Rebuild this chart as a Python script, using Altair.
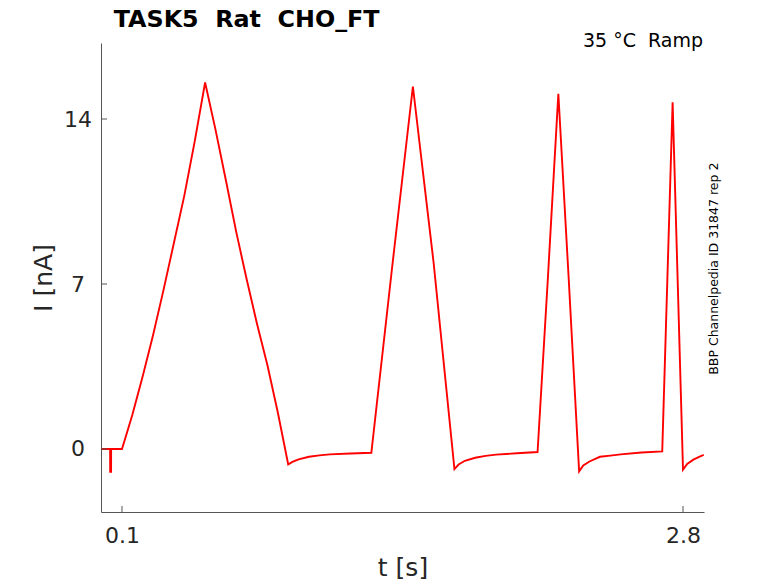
import altair as alt
import pandas as pd

# ---- data ----
t_vals = [0.0, 0.043, 0.0432, 0.0475, 0.0477, 0.1,
          0.15, 0.2, 0.25, 0.3, 0.35, 0.4, 0.45, 0.5,
          0.55, 0.6, 0.65, 0.7, 0.75, 0.8, 0.85, 0.9,
          0.92, 0.95, 1.0, 1.05, 1.1, 1.2, 1.3,
          1.4, 1.5, 1.6, 1.7,
          1.72, 1.75, 1.8, 1.85, 1.9, 2.0, 2.1,
          2.15, 2.2, 2.25, 2.3,
          2.32, 2.35, 2.4, 2.45, 2.5, 2.6, 2.7,
          2.75, 2.8,
          2.82, 2.85, 2.88, 2.9]
i_vals = [0.0, 0.0, -0.97, -0.97, 0.0, 0.0,
          1.45, 3.1, 4.85, 6.75, 8.75, 10.75, 13.05, 15.55,
          13.55, 11.4, 9.2, 7.2, 5.3, 3.55, 1.55, -0.66,
          -0.55, -0.44, -0.33, -0.27, -0.23, -0.19, -0.16,
          7.7, 15.38, 7.88, -0.85,
          -0.66, -0.50, -0.37, -0.29, -0.24, -0.18, -0.13,
          7.3, 15.07, 7.2, -0.95,
          -0.70, -0.53, -0.33, -0.28, -0.23, -0.15, -0.10,
          14.71, -0.88,
          -0.63, -0.45, -0.32, -0.25]

x_ticks = [0.1, 2.8]
y_ticks = [0, 7, 14]

title_text = ["TASK5\u00a0 Rat\u00a0 CHO_FT"]
cond_text = ["35 °C\u00a0 Ramp"]
id_text = ["BBP Channelpedia ID 31847 rep 2"]

FONT = "DejaVu Sans"
W, H = 603, 469

xs = alt.Scale(domain=[-0.001, 2.901], nice=False, zero=False)
ys = alt.Scale(domain=[-2.673, 17.225], nice=False, zero=False)

df = pd.DataFrame({"t": t_vals, "I": i_vals})

line = alt.Chart(df).mark_line(color="#ff0000", strokeWidth=1.9, clip=True).encode(
    x=alt.X("t:Q", scale=xs,
            axis=alt.Axis(values=x_ticks, title="t [s]", ticks=False, tickSize=0,
                          labelPadding=30, labelBaseline="alphabetic",
                          labelFontSize=22, labelColor="#262626", labelFont=FONT,
                          labelAlign="center", labelFlush=False,
                          titleFontSize=25, titleFont=FONT, titleFontWeight="normal",
                          titleColor="#262626", titleX=301.5, titleY=63.7,
                          titleBaseline="alphabetic", titleAlign="center",
                          domainColor="#555555", domainWidth=1, grid=False)),
    y=alt.Y("I:Q", scale=ys,
            axis=alt.Axis(values=y_ticks, title="I [nA]", ticks=False, tickSize=0,
                          labelPadding=23.6, labelAlign="center", labelBaseline="middle",
                          labelFontSize=22, labelColor="#262626", labelFont=FONT,
                          labelFlush=False,
                          titleFontSize=25, titleFont=FONT, titleFontWeight="normal",
                          titleColor="#262626", titleX=-49.6, titleY=234.5,
                          titleAngle=270, titleBaseline="alphabetic", titleAlign="center",
                          domainColor="#555555", domainWidth=1, grid=False)),
)

xt = alt.Chart(pd.DataFrame({"t": x_ticks})).mark_rule(color="#555555", strokeWidth=1).encode(
    x=alt.X("t:Q", scale=xs), y=alt.value(H), y2=alt.value(H - 6))
yt = alt.Chart(pd.DataFrame({"I": y_ticks})).mark_rule(color="#555555", strokeWidth=1).encode(
    y=alt.Y("I:Q", scale=ys), x=alt.value(0), x2=alt.value(6))

title = alt.Chart(pd.DataFrame({"s": title_text})).mark_text(
    font=FONT, fontSize=23.8, fontWeight="bold", color="#000000",
    align="left", baseline="alphabetic").encode(
    x=alt.value(12.7), y=alt.value(-16.4), text="s:N")

cond = alt.Chart(pd.DataFrame({"s": cond_text})).mark_text(
    font=FONT, fontSize=19, color="#000000",
    align="right", baseline="alphabetic").encode(
    x=alt.value(602), y=alt.value(4), text="s:N")

ident = alt.Chart(pd.DataFrame({"s": id_text})).mark_text(
    font=FONT, fontSize=12.5, color="#000000", angle=270,
    align="center", baseline="alphabetic").encode(
    x=alt.value(616.7), y=alt.value(225.7), text="s:N")

chart = alt.layer(line, xt, yt, title, cond, ident).properties(
    width=W, height=H,
    background="white",
    autosize=alt.AutoSizeParams(type="none"),
    padding={"left": 93, "top": 35, "right": 66, "bottom": 71},
).configure_view(stroke=None)

chart.save("out.html", embed_options={"renderer": "svg", "actions": False})
